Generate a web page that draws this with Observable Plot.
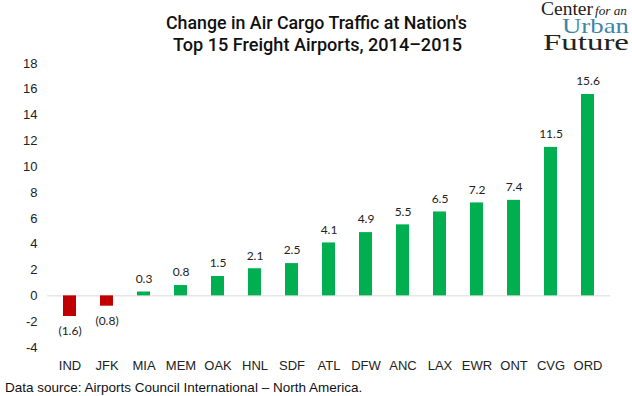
<!DOCTYPE html>
<html>
<head>
<meta charset="utf-8">
<script src="https://cdn.jsdelivr.net/npm/d3@7"></script>
<script src="https://cdn.jsdelivr.net/npm/@observablehq/plot@0.6"></script>
<style>
  html, body { margin: 0; padding: 0; background: #fff; }
  #wrap { position: relative; width: 632px; height: 396px; overflow: hidden; background: #fff; }
  #header { position: absolute; top: 0; left: 0; z-index: 2; }
  #chart { position: absolute; top: 52px; left: 0; z-index: 1; }
  #caption { position: absolute; top: 380px; left: 5px; z-index: 2;
    font-family: "Liberation Sans", Arial, sans-serif; font-size: 13.5px; color: #111; white-space: nowrap; }
</style>
</head>
<body>
<div id="wrap">
  <div id="chart"></div>
  <svg id="header" width="632" height="58" xmlns="http://www.w3.org/2000/svg">
    <g font-family="Roboto, 'Liberation Sans', sans-serif" font-weight="500" fill="#111" text-anchor="middle">
      <text x="316.5" y="29" font-size="19" textLength="301" lengthAdjust="spacingAndGlyphs">Change in Air Cargo Traffic at Nation's</text>
      <text x="317.5" y="51" font-size="19" textLength="289" lengthAdjust="spacingAndGlyphs">Top 15 Freight Airports, 2014–2015</text>
    </g>
    <g font-family="'Liberation Serif', 'DejaVu Serif', serif" fill="#222">
      <text x="541" y="15" font-size="18" textLength="52" lengthAdjust="spacingAndGlyphs">Center</text>
      <text x="595" y="15" font-size="12" font-style="italic" textLength="32" lengthAdjust="spacingAndGlyphs">for an</text>
      <text x="562" y="33" font-size="22" fill="#3d86a8" textLength="67" lengthAdjust="spacingAndGlyphs">Urban</text>
      <text x="543" y="50" font-size="24" textLength="86" lengthAdjust="spacingAndGlyphs">Future</text>
    </g>
  </svg>
  <div id="caption">Data source: Airports Council International – North America.</div>
</div>
<script>
const airports = ["IND","JFK","MIA","MEM","OAK","HNL","SDF","ATL","DFW","ANC","LAX","EWR","ONT","CVG","ORD"];
const changes = [-1.6,-0.8,0.3,0.8,1.5,2.1,2.5,4.1,4.9,5.5,6.5,7.2,7.4,11.5,15.6];
const yTicks = [-4,-2,0,2,4,6,8,10,12,14,16,18];

const data = airports.map((a, i) => ({airport: a, value: changes[i]}));
const fmt = v => v < 0 ? `(${Math.abs(v).toFixed(1)})` : v.toFixed(1);
const labelFont = "Lato, 'Open Sans', sans-serif";

const chart = Plot.plot({
  width: 632,
  height: 328,
  marginTop: 11,
  marginBottom: 33,
  marginLeft: 47,
  marginRight: 22,
  style: {fontFamily: "Liberation Sans, Arial, sans-serif", background: "transparent"},
  x: {domain: airports, paddingInner: 0.66, paddingOuter: 0.33, label: null},
  y: {domain: [-4, 18], ticks: yTicks, label: null},
  marks: [
    Plot.axisY({ticks: yTicks, tickSize: 0, tickPadding: 10, fontSize: 13, fill: "#222", label: null, tickFormat: d => d}),
    Plot.axisX({tickSize: 0, tickPadding: 13, fontSize: 13, fill: "#222", label: null}),
    Plot.ruleY([0], {stroke: "#d9d9d9", strokeWidth: 1}),
    Plot.barY(data, {x: "airport", y: "value", fill: d => d.value < 0 ? "#c00000" : "#00b050"}),
    Plot.text(data.filter(d => d.value >= 0), {x: "airport", y: "value", text: d => fmt(d.value), dy: -13, fontSize: 12, fill: "#222", fontFamily: labelFont}),
    Plot.text(data.filter(d => d.value < 0), {x: "airport", y: "value", text: d => fmt(d.value), dy: 15, fontSize: 12, fill: "#222", fontFamily: labelFont})
  ]
});
document.getElementById("chart").appendChild(chart);
</script>
</body>
</html>
